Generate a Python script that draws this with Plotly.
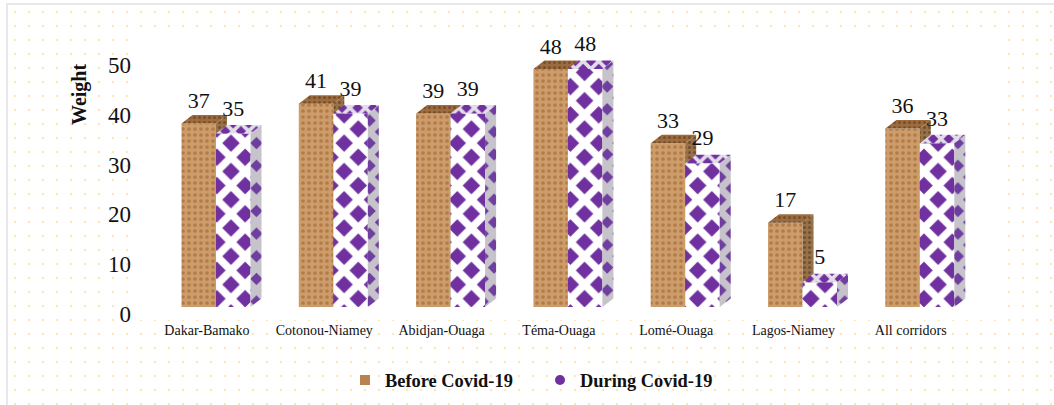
import plotly.graph_objects as go

categories = ["Dakar-Bamako", "Cotonou-Niamey", "Abidjan-Ouaga", "Téma-Ouaga", "Lomé-Ouaga", "Lagos-Niamey", "All corridors"]
before = [37, 41, 39, 48, 33, 17, 36]
during = [35, 39, 39, 48, 29, 5, 33]
y_ticks = [0, 10, 20, 30, 40, 50]

W, H = 1054, 405
FL, FR, FT, FB = 8, 1054, 5, 405      # frame (only left and top edges are drawn)
PL, PR, PT, PB = 132, 1000, 30, 320   # plot area
X0, XS = 216.0, 117.3                 # pixel of category 0, pixels per category
BAR_Y0, BAR_S = 307.0, 4.96           # bars: pixel of 0, pixels per unit
TICK_Y0, TICK_S = 314.0, 4.98         # tick labels: pixel of 0, pixels per unit
BW = 34.5 / XS
DX, DY = 11 / XS, 8.5 / BAR_S
SERIF = "Liberation Serif"
PURPLE = "#7030a0"

mx = lambda a: (a - FL) / (FR - FL)
my = lambda a: (FB - a) / (FB - FT)
x_range = [(PL - X0) / XS, (PR - X0) / XS]
bar_range = [(BAR_Y0 - PB) / BAR_S, (BAR_Y0 - PT) / BAR_S]
tick_range = [(TICK_Y0 - PB) / TICK_S, (TICK_Y0 - PT) / TICK_S]


def faces(lefts, values):
    side_x, side_y, top_x, top_y = [], [], [], []
    for l, v in zip(lefts, values):
        r = l + BW
        side_x += [r, r + DX, r + DX, r, r, None]
        side_y += [0, DY, v + DY, v, 0, None]
        top_x += [l, l + DX, r + DX, r, l, None]
        top_y += [v, v + DY, v + DY, v, v, None]
    return side_x, side_y, top_x, top_y


idx = list(range(len(categories)))
fig = go.Figure()

# dotted cream wallpaper
fig.add_trace(go.Scatter(
    x=[0, 1, 1, 0, 0], y=[0, 0, 1, 1, 0], xaxis="x", yaxis="y", mode="none", fill="toself",
    fillpattern=dict(shape=".", size=14, solidity=0.025, fgcolor="#fde8b8", fgopacity=1, bgcolor="#ffffff"),
    showlegend=False, hoverinfo="skip"))

# invisible carrier for the tick axis
fig.add_trace(go.Scatter(x=[None], y=[None], xaxis="x2", yaxis="y2", mode="markers", showlegend=False))

# Before
lefts_b = [i - BW for i in idx]
sx, sy, tx, ty = faces(lefts_b, before)
fig.add_trace(go.Bar(
    x=[i - BW / 2 for i in idx], y=before, width=BW, xaxis="x2", yaxis="y3", showlegend=False,
    marker=dict(color="#c8935f", line_width=0,
                pattern=dict(shape=".", size=6, solidity=0.3, fgcolor="#b27c49", fgopacity=1, bgcolor="#cd9c6b"))))
fig.add_trace(go.Scatter(x=sx, y=sy, xaxis="x2", yaxis="y3", mode="none", fill="toself",
                         fillpattern=dict(shape=".", size=5, solidity=0.3, fgcolor="#73502c", fgopacity=1, bgcolor="#96714a"),
                         showlegend=False, hoverinfo="skip"))
fig.add_trace(go.Scatter(x=tx, y=ty, xaxis="x2", yaxis="y3", mode="none", fill="toself",
                         fillpattern=dict(shape=".", size=5, solidity=0.3, fgcolor="#7a5029", fgopacity=1, bgcolor="#9c6c40"),
                         showlegend=False, hoverinfo="skip"))

# During
lefts_d = list(idx)
sx, sy, tx, ty = faces(lefts_d, during)
fig.add_trace(go.Bar(
    x=[i + BW / 2 for i in idx], y=during, width=BW, xaxis="x2", yaxis="y4", showlegend=False,
    marker=dict(color="#ffffff", line_width=0,
                pattern=dict(shape="x", size=20, solidity=0.62, fgcolor="#ffffff", fgopacity=1, bgcolor=PURPLE))))
fig.add_trace(go.Scatter(x=sx, y=sy, xaxis="x2", yaxis="y4", mode="none", fill="toself",
                         fillpattern=dict(shape="x", size=16, solidity=0.7, fgcolor="#c6c3ca", fgopacity=1, bgcolor="#6f3f9f"),
                         showlegend=False, hoverinfo="skip"))
fig.add_trace(go.Scatter(x=tx, y=ty, xaxis="x2", yaxis="y4", mode="none", fill="toself",
                         fillpattern=dict(shape="x", size=11, solidity=0.55, fgcolor="#e2dde8", fgopacity=1, bgcolor=PURPLE),
                         showlegend=False, hoverinfo="skip"))

# data labels
fig.add_trace(go.Scatter(
    x=[i - BW / 2 for i in idx] + [i + BW / 2 for i in idx],
    y=[v + 4.2 for v in before] + [v + 4.7 for v in during],
    text=[str(v) for v in before + during], mode="text", textposition="middle center",
    textfont=dict(family=SERIF, size=22, color="#111111"),
    xaxis="x2", yaxis="y4", showlegend=False, cliponaxis=False, hoverinfo="skip"))

# legend entries
fig.add_trace(go.Scatter(x=[None], y=[None], mode="markers", name="Before Covid-19", xaxis="x2", yaxis="y3",
                         marker=dict(symbol="square", size=10, color="#b9824f")))
fig.add_trace(go.Scatter(x=[None], y=[None], mode="markers", name="During Covid-19", xaxis="x2", yaxis="y4",
                         marker=dict(symbol="circle", size=10, color=PURPLE)))

hidden = dict(visible=False, fixedrange=True)
fig.update_layout(
    width=W, height=H, showlegend=True,
    margin=dict(l=FL, r=W - FR, t=FT, b=H - FB, pad=0, autoexpand=False),
    paper_bgcolor="#ffffff", plot_bgcolor="#ffffff",
    font=dict(family=SERIF, color="#111111"),
    xaxis=dict(domain=[0, 1], range=[0, 1], side="top", showgrid=False, zeroline=False, showticklabels=False, ticks="",
               showline=True, linecolor="#e8e8e8", linewidth=2),
    yaxis=dict(domain=[0, 1], range=[0, 1], showgrid=False, zeroline=False, showticklabels=False, ticks="",
               showline=True, linecolor="#e8e8e8", linewidth=2),
    xaxis2=dict(domain=[mx(PL), mx(PR)], range=x_range, anchor="y2", showgrid=False, zeroline=False, showline=False,
                tickmode="array", tickvals=[i - 0.077 for i in idx], ticktext=categories, ticks="",
                tickangle=0, tickfont=dict(family=SERIF, size=14, color="#111111")),
    yaxis2=dict(domain=[my(PB), my(PT)], range=tick_range, anchor="x2", showgrid=False, zeroline=False, showline=False,
                tickmode="array", tickvals=y_ticks, ticks="", tickfont=dict(family=SERIF, size=23, color="#111111")),
    yaxis3=dict(domain=[my(PB), my(PT)], range=bar_range, overlaying="y2", anchor="x2", **hidden),
    yaxis4=dict(domain=[my(PB), my(PT)], range=bar_range, overlaying="y2", anchor="x2", **hidden),
    legend=dict(orientation="h", x=mx(345), xanchor="left", y=my(380), yanchor="middle",
                entrywidth=150, entrywidthmode="pixels",
                font=dict(family=SERIF, size=18.4, color="#111111", weight="bold"),
                bgcolor="rgba(0,0,0,0)", itemwidth=30),
    annotations=[dict(text="<b>Weight</b>", xref="paper", yref="paper", x=mx(80), y=my(95), showarrow=False,
                      textangle=-90, font=dict(family=SERIF, size=20, color="#111111"),
                      xanchor="center", yanchor="middle")],
)
fig.write_html("out.html", config=dict(displayModeBar=False), post_script="document.body.style.margin='0';")
